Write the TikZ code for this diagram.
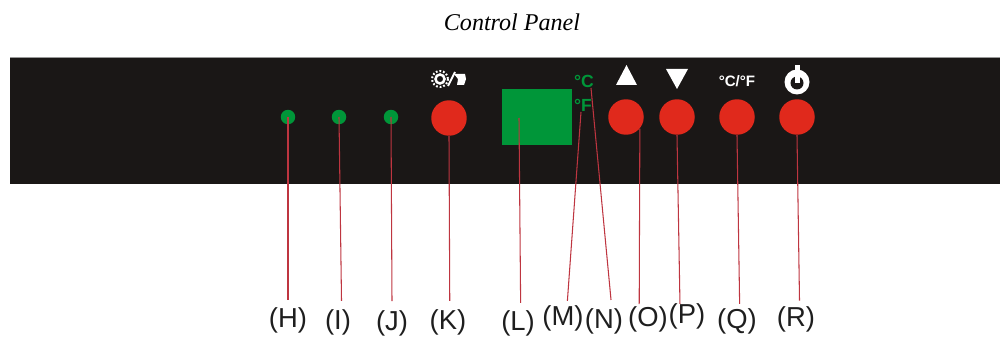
\documentclass[tikz,border=0pt]{standalone}
\usepackage{fontspec}
\setmainfont{Liberation Sans}
\newfontfamily\titlefont{Liberation Serif}
\usetikzlibrary{calc}
\definecolor{panelblack}{HTML}{1A1716}
\definecolor{panelred}{HTML}{E0291C}
\definecolor{panelgreen}{HTML}{009639}
\definecolor{leadred}{HTML}{BE3540}
\definecolor{lettergray}{HTML}{1E1E1E}
\tikzset{
	led/.style={circle, fill=panelgreen, inner sep=0, minimum size=0.29cm},
	knob/.style={circle, fill=panelred, inner sep=0, minimum size=0.71cm},
	letter/.style={inner sep=3pt, text=lettergray, font=\fontsize{15.6}{17}\selectfont},
	unit/.style={inner sep=0, text=panelgreen, font=\fontsize{10}{12}\selectfont\bfseries},
	leader/.style={color=leadred, line width=0.6pt}
}

\begin{document}
\begin{tikzpicture}[x=0.02cm, y=-0.02cm]
	%%%%% START %%%%%
	\useasboundingbox (0, 0) rectangle (1002, 341);

	\node[inner sep=0, font=\titlefont\itshape\fontsize{13.7}{16}\selectfont] (title) at (512, 22) {Control Panel};

	\fill[panelblack] (10, 57) rectangle (1000, 184);
	\draw[black!40, line width=0.3pt] (10, 57) -- (1000, 57);

	\node[led] (ledH) at (288, 117) {};
	\node[led] (ledI) at (339, 117) {};
	\node[led] (ledJ) at (391, 117) {};
	\node[knob] (knobK) at (449, 118) {};
	\node[knob] (knobO) at (626, 117) {};
	\node[knob] (knobP) at (677, 117) {};
	\node[knob] (knobQ) at (737, 117) {};
	\node[knob] (knobR) at (797, 117) {};

	\node[fill=panelgreen, inner sep=0, minimum width=1.4cm, minimum height=1.12cm] (screenL) at (537, 117) {};
	\node[unit] (unitC) at (584, 81) {°C};
	\node[unit] (unitF) at (583, 105) {°F};

	% symbols over the knobs
	\draw[white, line width=0.5mm] (440, 79) circle (4.5);
	\draw[white, line width=0.4mm, dash pattern=on 1pt off 1.1pt] (440, 79) circle (8);
	\draw[white, line width=0.4mm] (448, 86) -- (455, 72);
	\fill[white] (454, 74) -- (465, 74) -- (466, 79) -- (464, 85) -- (457, 85) -- (458, 79) -- cycle;

	\fill[white] (616, 85) -- (626.5, 65) -- (637, 85) -- cycle;
	\fill[white] (666, 69) -- (688, 69) -- (677, 89) -- cycle;
	\node[inner sep=0, text=white, font=\fontsize{8.6}{10}\selectfont\bfseries] (unitQ) at (737, 81) {°C/°F};

	\fill[white] (797, 82) circle (12.5);
	\fill[panelblack] (797, 83) circle (6.5);
	\fill[white] (794.5, 65) rectangle (799.5, 83);

	% leader lines
	\node[letter] (labelH) at (288, 320) {(H)};
	\node[letter] (labelI) at (338, 322) {(I)};
	\node[letter] (labelJ) at (392, 323) {(J)};
	\node[letter] (labelK) at (448, 322) {(K)};
	\node[letter] (labelL) at (518, 323) {(L)};
	\node[letter] (labelM) at (563, 318) {(M)};
	\node[letter] (labelN) at (604, 321) {(N)};
	\node[letter] (labelO) at (648, 319) {(O)};
	\node[letter] (labelP) at (687, 316) {(P)};
	\node[letter] (labelQ) at (737, 321) {(Q)};
	\node[letter] (labelR) at (796, 319) {(R)};

	\coordinate (tipL) at (519, 118);
	\coordinate (tipM) at (581, 112);
	\coordinate (tipN) at (591, 88);

	\draw[leader] (ledH.center) -- ([yshift=1pt]labelH.north);
	\draw[leader] (ledI.center) -- ([xshift=2pt, yshift=1.5pt]labelI.north);
	\draw[leader] (ledJ.center) -- ([yshift=2pt]labelJ.north);
	\draw[leader] (knobK.south) -- ([xshift=1pt, yshift=1.5pt]labelK.north);
	\draw[leader] (tipL) -- ([xshift=1.5pt, yshift=1pt]labelL.north);
	\draw[leader] (tipM) -- ([xshift=2.5pt, yshift=-0.7pt]labelM.north);
	\draw[leader] (tipN) -- ([xshift=4pt, yshift=1.5pt]labelN.north);
	\draw[leader] (knobO.-40) -- ([xshift=-5pt, yshift=-2pt]labelO.north);
	\draw[leader] (knobP.south) -- ([xshift=-4pt, yshift=-3.5pt]labelP.north);
	\draw[leader] (knobQ.south) -- ([xshift=1.5pt, yshift=-0.7pt]labelQ.north);
	\draw[leader] (knobR.south) -- ([xshift=2pt]labelR.north);
	%%%%% END %%%%%
\end{tikzpicture}
\end{document}
